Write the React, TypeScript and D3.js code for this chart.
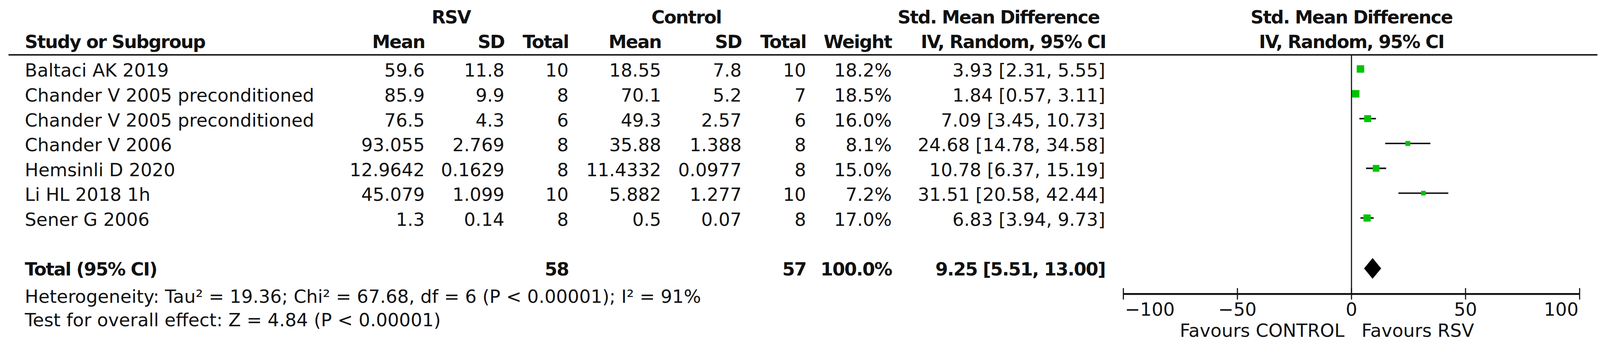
import React, { useEffect } from "react";
import * as d3 from "d3";

const studies = [
  "Baltaci AK 2019",
  "Chander V 2005 preconditioned",
  "Chander V 2005 preconditioned",
  "Chander V 2006",
  "Hemsinli D 2020",
  "Li HL 2018 1h",
  "Sener G 2006",
];
const rsvMean = [59.6, 85.9, 76.5, 93.055, 12.9642, 45.079, 1.3];
const rsvSD = [11.8, 9.9, 4.3, 2.769, 0.1629, 1.099, 0.14];
const rsvN = [10, 8, 6, 8, 8, 10, 8];
const ctrlMean = [18.55, 70.1, 49.3, 35.88, 11.4332, 5.882, 0.5];
const ctrlSD = [7.8, 5.2, 2.57, 1.388, 0.0977, 1.277, 0.07];
const ctrlN = [10, 7, 6, 8, 8, 10, 8];
const weights = [18.2, 18.5, 16.0, 8.1, 15.0, 7.2, 17.0];
const smd = [3.93, 1.84, 7.09, 24.68, 10.78, 31.51, 6.83];
const ciLow = [2.31, 0.57, 3.45, 14.78, 6.37, 20.58, 3.94];
const ciHigh = [5.55, 3.11, 10.73, 34.58, 15.19, 42.44, 9.73];

const totalRsvN = 58;
const totalCtrlN = 57;
const totalWeight = 100.0;
const totalSmd = 9.25;
const totalLow = 5.51;
const totalHigh = 13.0;

const heterogeneityText =
  "Heterogeneity: Tau² = 19.36; Chi² = 67.68, df = 6 (P < 0.00001); I² = 91%";
const overallText = "Test for overall effect: Z = 4.84 (P < 0.00001)";
const axisTicks = [-100, -50, 0, 50, 100];
const favoursLeft = "Favours CONTROL";
const favoursRight = "Favours RSV";

const W = 4317;
const H = 929;
const FONT = "'DejaVu Sans', Verdana, sans-serif";
const FS = 49;
const INK = "#111";
const GREEN = "#00c400";

export default function App() {
  useEffect(() => {
    document.documentElement.style.overflow = "hidden";
    document.body.style.overflow = "hidden";
    document.body.style.margin = "0";
  }, []);

  const x = d3.scaleLinear().domain([-100, 100]).range([3031, 4262]);
  const rowY = d3.scaleLinear().domain([0, 1]).range([207, 274]);
  const side = d3.scaleSqrt().domain([0, 100]).range([0, 47]);
  const totalBase = rowY(8);
  const totalCenter = totalBase - 19;
  const fmtCI = (e: number, l: number, h: number) =>
    `${e.toFixed(2)} [${l.toFixed(2)}, ${h.toFixed(2)}]`;

  const cols = {
    rsvMean: 1146,
    rsvSD: 1361,
    rsvN: 1534,
    ctrlMean: 1784,
    ctrlSD: 2001,
    ctrlN: 2175,
    weight: 2406,
    ci: 2982,
  };

  const bold = { fontWeight: 700, letterSpacing: "-2px" } as React.CSSProperties;
  const headBase = 130;
  const groupBase = 63;
  const axisY = 793;

  return (
    <svg
      viewBox={`0 0 ${W} ${H}`}
      preserveAspectRatio="xMinYMin meet"
      style={{
        position: "fixed",
        left: 0,
        top: 0,
        width: "100vw",
        height: "100vh",
        background: "#fff",
        display: "block",
      }}
      fontFamily={FONT}
      fontSize={FS}
      fill={INK}
    >
      <rect x={0} y={0} width={W} height={H} fill="#fff" />
      {/* group headers */}
      <g style={bold}>
        <text x={1217} y={groupBase} textAnchor="middle">RSV</text>
        <text x={1852} y={groupBase} textAnchor="middle">Control</text>
        <text x={2694} y={groupBase} textAnchor="middle">Std. Mean Difference</text>
        <text x={x(0)} y={groupBase} textAnchor="middle">Std. Mean Difference</text>
      </g>
      {/* column headers */}
      <g style={bold}>
        <text x={67} y={headBase}>Study or Subgroup</text>
        <text x={cols.rsvMean} y={headBase} textAnchor="end">Mean</text>
        <text x={cols.rsvSD} y={headBase} textAnchor="end">SD</text>
        <text x={cols.rsvN} y={headBase} textAnchor="end">Total</text>
        <text x={cols.ctrlMean} y={headBase} textAnchor="end">Mean</text>
        <text x={cols.ctrlSD} y={headBase} textAnchor="end">SD</text>
        <text x={cols.ctrlN} y={headBase} textAnchor="end">Total</text>
        <text x={cols.weight} y={headBase} textAnchor="end">Weight</text>
        <text x={2734} y={headBase} textAnchor="middle">IV, Random, 95% CI</text>
        <text x={x(0)} y={headBase} textAnchor="middle">IV, Random, 95% CI</text>
      </g>
      <line x1={23} x2={4310} y1={148} y2={148} stroke={INK} strokeWidth={4} />

      {/* study rows */}
      {studies.map((s, i) => {
        const y = rowY(i);
        return (
          <g key={i}>
            <text x={67} y={y}>{s}</text>
            <text x={cols.rsvMean} y={y} textAnchor="end">{String(rsvMean[i])}</text>
            <text x={cols.rsvSD} y={y} textAnchor="end">{String(rsvSD[i])}</text>
            <text x={cols.rsvN} y={y} textAnchor="end">{rsvN[i]}</text>
            <text x={cols.ctrlMean} y={y} textAnchor="end">{String(ctrlMean[i])}</text>
            <text x={cols.ctrlSD} y={y} textAnchor="end">{String(ctrlSD[i])}</text>
            <text x={cols.ctrlN} y={y} textAnchor="end">{ctrlN[i]}</text>
            <text x={cols.weight} y={y} textAnchor="end">{weights[i].toFixed(1)}%</text>
            <text x={cols.ci} y={y} textAnchor="end">{fmtCI(smd[i], ciLow[i], ciHigh[i])}</text>
          </g>
        );
      })}

      {/* total row */}
      <g style={bold}>
        <text x={67} y={totalBase}>Total (95% CI)</text>
        <text x={cols.rsvN} y={totalBase} textAnchor="end">{totalRsvN}</text>
        <text x={cols.ctrlN} y={totalBase} textAnchor="end">{totalCtrlN}</text>
        <text x={cols.weight} y={totalBase} textAnchor="end">{totalWeight.toFixed(1)}%</text>
        <text x={cols.ci} y={totalBase} textAnchor="end">{fmtCI(totalSmd, totalLow, totalHigh)}</text>
      </g>
      <text x={67} y={817}>{heterogeneityText}</text>
      <text x={67} y={880}>{overallText}</text>

      {/* forest plot */}
      <line x1={x(0)} x2={x(0)} y1={148} y2={axisY} stroke={INK} strokeWidth={3} />
      {studies.map((s, i) => {
        const cy = rowY(i) - 21;
        const sz = side(weights[i]);
        return (
          <g key={"p" + i}>
            <line x1={x(ciLow[i])} x2={x(ciHigh[i])} y1={cy} y2={cy} stroke={INK} strokeWidth={4} />
            <rect x={x(smd[i]) - sz / 2} y={cy - sz / 2} width={sz} height={sz} fill={GREEN} />
          </g>
        );
      })}
      <polygon
        points={[
          [x(totalLow), totalCenter],
          [x(totalSmd), totalCenter - 28],
          [x(totalHigh), totalCenter],
          [x(totalSmd), totalCenter + 28],
        ]
          .map((p) => p.join(","))
          .join(" ")}
        fill="#000"
      />

      {/* axis */}
      <line x1={x(-100)} x2={x(100)} y1={axisY} y2={axisY} stroke={INK} strokeWidth={5} />
      {axisTicks.map((t, i) => (
        <g key={"t" + t}>
          <line x1={x(t)} x2={x(t)} y1={axisY - 16} y2={axisY + 15} stroke={INK} strokeWidth={3} />
          <text
            x={x(t) + (i === 0 ? 4 : i === axisTicks.length - 1 ? -3 : 0)}
            y={852}
            textAnchor={i === 0 ? "start" : i === axisTicks.length - 1 ? "end" : "middle"}
          >
            {t < 0 ? "−" + Math.abs(t) : String(t)}
          </text>
        </g>
      ))}
      <text x={x(0) - 19} y={908} textAnchor="end">{favoursLeft}</text>
      <text x={x(0) + 27} y={908} textAnchor="start">{favoursRight}</text>
    </svg>
  );
}
